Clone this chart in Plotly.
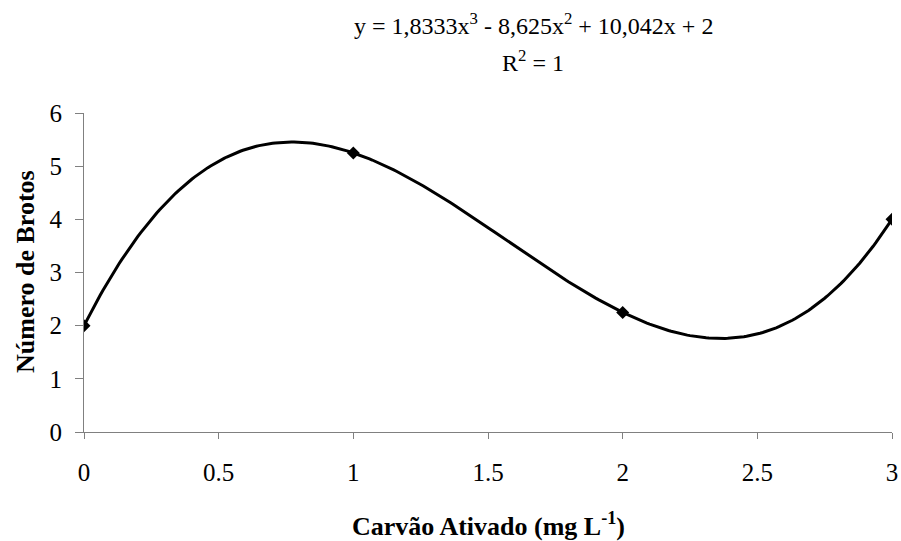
import numpy as np
import plotly.graph_objects as go

# Data
carvao = [0, 1, 2, 3]                 # mg L-1
brotos = [2.0, 5.25, 2.25, 4.0]       # Número de Brotos
x_ticks = [0, 0.5, 1, 1.5, 2, 2.5, 3]
y_ticks = [0, 1, 2, 3, 4, 5, 6]
equation_text = "y = 1,8333x<sup>3</sup> - 8,625x<sup>2</sup> + 10,042x + 2"
r2_text = "R<sup>2</sup> = 1"
x_title = "<b>Carvão Ativado (mg L<sup>-1</sup>)</b>"
y_title = "<b>Número de Brotos</b>"

# Polynomial (order 3) trendline, fitted to the data as in the original chart
coef = np.polyfit(carvao, brotos, 3)
xs = np.linspace(min(carvao), max(carvao), 301)
ys = np.polyval(coef, xs)

FONT = "Liberation Serif"
W, H = 901, 541
L, R, T, B = 84, 9, 113, 109
pw, ph = W - L - R, H - T - B


def px_to_paper(px, py):
    return (px - L) / pw, (H - B - py) / ph


fig = go.Figure()
fig.add_trace(go.Scatter(x=xs, y=ys, mode="lines",
                         line=dict(color="black", width=3),
                         hoverinfo="skip", showlegend=False))
fig.add_trace(go.Scatter(x=carvao, y=brotos, mode="markers",
                         marker=dict(symbol="diamond", color="black", size=10),
                         showlegend=False))

fig.update_layout(
    template="none",
    width=W, height=H,
    margin=dict(l=L, r=R, t=T, b=B, autoexpand=False),
    paper_bgcolor="white", plot_bgcolor="white",
    font=dict(family=FONT, color="black", size=25),
    showlegend=False,
    xaxis=dict(range=[0, 3], tickvals=x_ticks, ticktext=[str(t) for t in x_ticks],
               showgrid=False, zeroline=False, showline=True, linecolor="#808080",
               linewidth=1, ticks="outside", ticklen=6, tickcolor="#808080", tickwidth=1,
               ticklabelstandoff=12, automargin=False,
               tickfont=dict(family=FONT, size=25, color="black")),
    yaxis=dict(range=[0, 6], tickvals=y_ticks,
               showgrid=False, zeroline=False, showline=True, linecolor="#808080",
               linewidth=1, ticks="outside", ticklen=8, tickcolor="#808080", tickwidth=1,
               ticklabelstandoff=8, automargin=False,
               tickfont=dict(family=FONT, size=25, color="black")),
)

# equation and R² (trendline label)
for txt, px, py in [(equation_text, 533, 24), (r2_text, 533, 61)]:
    ax, ay = px_to_paper(px, py)
    fig.add_annotation(text=txt, x=ax, y=ay, xref="paper", yref="paper",
                       xanchor="center", yanchor="middle", showarrow=False,
                       font=dict(family=FONT, size=24, color="black"))

# axis titles
ax, ay = px_to_paper(488, 524)
fig.add_annotation(text=x_title, x=ax, y=ay, xref="paper", yref="paper",
                   xanchor="center", yanchor="middle", showarrow=False,
                   font=dict(family=FONT, size=26, color="black"))
ax, ay = px_to_paper(25, 272)
fig.add_annotation(text=y_title, x=ax, y=ay, xref="paper", yref="paper",
                   xanchor="center", yanchor="middle", textangle=-90, showarrow=False,
                   font=dict(family=FONT, size=26, color="black"))

fig.write_html("out.html")
